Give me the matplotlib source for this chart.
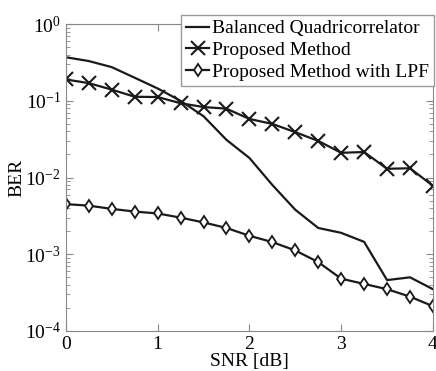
import matplotlib
matplotlib.use("Agg")
import matplotlib.pyplot as plt
from matplotlib.ticker import LogLocator, NullFormatter

plt.rcParams['font.family'] = ['Liberation Serif', 'DejaVu Serif']
plt.rcParams['mathtext.fontset'] = 'stix'

snr = [0, 0.25, 0.5, 0.75, 1.0, 1.25, 1.5, 1.75, 2.0, 2.25, 2.5, 2.75, 3.0, 3.25, 3.5, 3.75, 4.0]

ber_bq = [0.37, 0.33, 0.275, 0.2, 0.145, 0.1, 0.063, 0.031, 0.018, 0.008,
          0.0038, 0.0022, 0.0019, 0.00145, 0.00046, 0.0005, 0.00035]
ber_prop = [0.19, 0.17, 0.14, 0.113, 0.112, 0.093, 0.083, 0.079, 0.058, 0.050,
            0.039, 0.030, 0.021, 0.0215, 0.013, 0.0132, 0.0078]
ber_lpf = [0.0045, 0.0043, 0.0039, 0.0036, 0.0034, 0.0030, 0.0026, 0.0022, 0.00174, 0.00144,
           0.00112, 0.00079, 0.00048, 0.00041, 0.00035, 0.00028, 0.00021]

labels = ['Balanced Quadricorrelator', 'Proposed Method', 'Proposed Method with LPF']

fig = plt.figure(figsize=(4.36, 3.71), dpi=100)
ax = fig.add_axes([0.151, 0.108, 0.842, 0.827])

ax.semilogy(snr, ber_bq, color='#1a1a1a', lw=1.6, label=labels[0])
ax.semilogy(snr, ber_prop, color='#1a1a1a', lw=1.6, marker='x', ms=10, mew=1.5, label=labels[1])
ax.semilogy(snr, ber_lpf, color='#1a1a1a', lw=1.6, marker='d', ms=6, mew=1.3,
            mfc='white', label=labels[2])

ax.set_xlim(0, 4)
ax.set_ylim(1e-4, 1)
ax.set_xticks([0, 1, 2, 3, 4])
ax.yaxis.set_major_locator(LogLocator(base=10, numticks=10))
ax.yaxis.set_minor_locator(LogLocator(base=10, subs=range(2, 10), numticks=10))
ax.yaxis.set_minor_formatter(NullFormatter())
ax.tick_params(which='both', direction='in', top=True, right=True, color='#888888',
               labelsize=14)
ax.tick_params(axis='x', pad=4)
ax.tick_params(which='major', length=5)
ax.tick_params(which='minor', length=3)
for s in ax.spines.values():
    s.set_color('#888888')

ax.set_xlabel('SNR [dB]', fontsize=14)
ax.set_ylabel('BER', fontsize=14)
ax.xaxis.set_label_coords(0.5, -0.073)
ax.yaxis.set_label_coords(-0.133, 0.5)
ax.xaxis.label.set_va('top')
ax.yaxis.label.set_va('center')

leg = ax.legend(loc='upper right', bbox_to_anchor=(1.003, 1.03), fontsize=14,
                fancybox=False, framealpha=1, borderpad=0.25, labelspacing=0.22,
                handlelength=1.2, handletextpad=0.15, borderaxespad=0)
leg.get_frame().set_edgecolor('#999999')
leg.get_frame().set_linewidth(1.0)

fig.savefig('out.png', dpi=100)
